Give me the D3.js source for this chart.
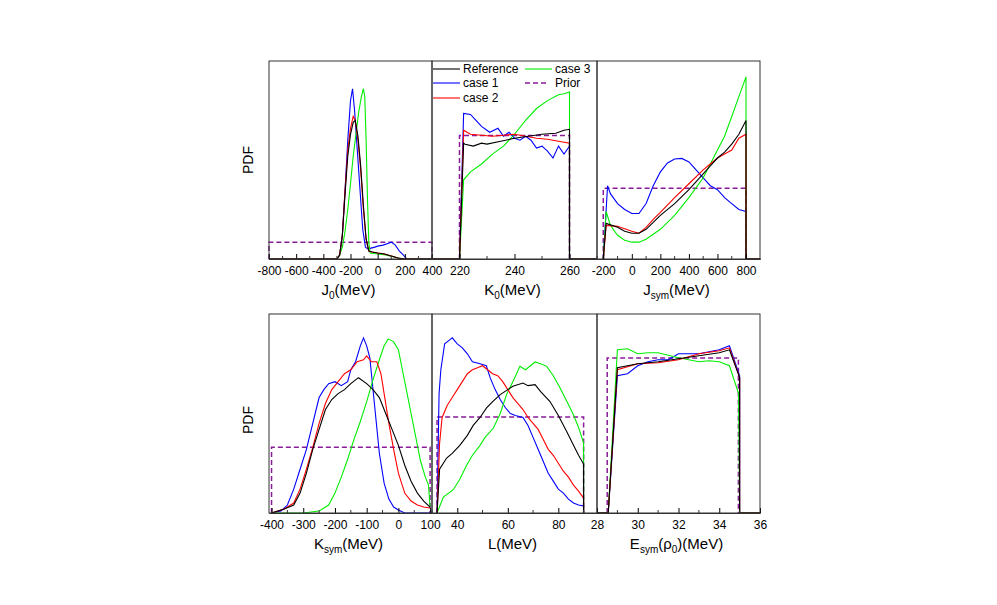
<!DOCTYPE html>
<html><head><meta charset="utf-8">
<script src="https://cdn.jsdelivr.net/npm/d3@7"></script>
<style>body{margin:0;background:#fff}text{font-family:"Liberation Sans",Arial,sans-serif}</style>
</head><body><svg id="c" width="997" height="605"></svg>
<script>
const colors={ref:"#000000",c1:"#0000ff",c2:"#ff0000",c3:"#00ee00",prior:"#8b1a9a"};
const seriesNames=["Reference","case 1","case 2","case 3","Prior"];
// J0
const J0_ref=[[-800,0],[-300,0],[-280,2],[-260,12],[-240,33],[-220,52],[-200,63],[-180,69],[-165,70],[-145,62],[-125,47],[-105,27],[-85,10],[-65,4],[-40,3.5],[0,3],[50,2.5],[100,1.5],[150,0.5],[200,0],[400,0]];
const J0_c1=[[-800,0],[-300,0],[-280,2],[-260,12],[-240,35],[-220,60],[-200,80],[-185,86],[-170,75],[-150,55],[-130,35],[-110,15],[-90,6],[-70,5],[-50,5.5],[-20,6],[0,6.5],[40,7],[80,8],[100,8.5],[130,7],[160,4],[190,2],[215,0],[400,0]];
const J0_c2=[[-800,0],[-300,0],[-280,2],[-260,12],[-240,35],[-220,55],[-200,66],[-180,72],[-165,70],[-145,60],[-125,45],[-105,25],[-85,10],[-65,4],[-40,3.5],[0,3],[50,2.5],[100,1.5],[150,0.5],[200,0],[400,0]];
const J0_c3=[[-800,0],[-300,0],[-280,2],[-260,6],[-240,14],[-220,25],[-200,38],[-180,52],[-160,63],[-140,74],[-120,82],[-105,86],[-95,82],[-85,60],[-75,30],[-65,8],[-55,3],[0,2.5],[60,2],[120,1],[180,0],[400,0]];
const J0_prior=[[-800,0],[-800,8.4],[400,8.4],[400,0]];
// K0
const K0_ref=[[210,0],[220,0],[221.5,58.5],[222,58],[225,57],[228,58.5],[230,58],[235,59.5],[240,61],[245,62],[250,63],[255,63.5],[258,65],[260,65.5],[260,0],[270,0]];
const K0_c1=[[210,0],[220,0],[221.5,73.5],[224,73],[226,70],[228,67],[231,64],[234,66],[236,62],[238,64],[240,61],[242,60],[244,62],[246,60],[248,56],[250,57],[252,54.5],[254,51],[256,57],[258,53],[260,57],[260,0],[270,0]];
const K0_c2=[[210,0],[220,0],[221.5,65],[224,63],[228,62.5],[232,62],[236,62.5],[240,63],[244,62],[248,61],[252,60.5],[256,59.5],[260,58.5],[260,0],[270,0]];
const K0_c3=[[210,0],[220,0],[221.5,40],[224,44],[228,48],[232,53],[236,57],[240,63],[244,70],[248,76],[252,80],[256,83],[258,83.5],[260,84.4],[260,0],[270,0]];
const K0_prior=[[220,0],[220,62.4],[260,62.4],[260,0]];
// Jsym
const Js_ref=[[-200,0],[-180,18],[-100,16],[-50,14],[0,13],[50,13],[100,15],[150,18.5],[200,22],[300,28],[400,35],[500,43],[550,47],[600,51],[650,54],[700,58],[750,63],[800,70],[800,0],[900,0]];
const Js_c1=[[-200,0],[-170,37],[-150,33],[-100,28],[-50,25],[0,23],[50,23],[100,28],[150,37],[200,44],[250,48.5],[300,50.5],[350,50.8],[400,49],[450,45],[500,41],[550,37],[600,35],[650,31],[700,28],[750,25],[800,24],[800,0],[900,0]];
const Js_c2=[[-200,0],[-180,17],[-100,16.5],[0,14],[50,13],[100,16],[150,20],[200,23.5],[300,31],[400,38],[500,45],[550,48],[600,51],[650,53],[700,55],[750,61],[800,63],[800,0],[900,0]];
const Js_c3=[[-200,0],[-180,24],[-150,17],[-100,12],[-50,9.5],[0,8.5],[50,8.5],[100,10],[200,15],[300,22],[400,31],[500,41],[550,48],[600,55],[650,62],[700,72],[750,82],[800,92],[800,0],[900,0]];
const Js_prior=[[-200,0],[-200,35.7],[800,35.7],[800,0]];
// Ksym
const Ks_ref=[[-400,0],[-360,2],[-330,4],[-310,10],[-290,20],[-270,32],[-250,42],[-230,52],[-210,57],[-190,60],[-170,62],[-150,65],[-126,68],[-100,65],[-80,62],[-60,58],[-40,50],[-20,42],[0,34],[20,24],[40,16],[60,10],[80,6],[100,3]];
const Ks_c1=[[-400,0],[-370,1],[-350,4],[-330,12],[-310,22],[-290,32],[-270,45],[-250,58],[-235,62],[-220,65],[-200,66],[-180,64],[-160,66],[-150,72],[-135,76],[-120,84],[-110,88],[-100,84],[-90,78],[-75,54],[-60,30],[-45,15],[-30,7],[-15,3],[0,1.5],[20,0],[100,0]];
const Ks_c2=[[-400,0],[-360,2],[-330,5],[-310,12],[-290,22],[-270,33],[-250,45],[-230,55],[-210,62],[-190,66],[-170,70],[-150,72],[-130,76],[-110,77],[-100,79],[-85,76],[-68,76],[-55,70],[-45,60],[-30,45],[-15,32],[0,20],[20,10],[40,6],[60,4],[80,3],[100,2.5]];
const Ks_c3=[[-400,0],[-300,0],[-250,1],[-220,4],[-200,10],[-180,18],[-160,27],[-140,37],[-120,46],[-100,56],[-80,67],[-60,77],[-45,84],[-32,87.5],[-15,86],[0,82],[10,74],[25,62],[40,50],[55,38],[70,26],[85,18],[95,14],[100,3]];
const Ks_prior=[[-400,0],[-400,33],[100,33],[100,0]];
// L
const L_ref=[[32,0],[33,22],[35.8,27.6],[38,30],[41,34],[44,39],[46.3,44],[49,48],[51.6,52.8],[54,56],[57,59.5],[60,62],[62,63.7],[66,65.3],[68,64],[70.8,64.5],[73,61],[76.7,56],[80,49],[83.3,41],[86,34],[88,29],[90,24.6],[90,0]];
const L_c1=[[32,0],[32.8,60],[33.5,72],[35,85],[37,87],[38,88],[40,85],[42,83],[44,80],[46,76],[49,75],[51.5,74],[53,68],[55,62],[57,57],[59,53],[61,50],[63,49],[66,48],[68,44],[70,38],[72,32],[74,26],[76,20],[78,16],[80,12],[82,10],[84,7],[86,5],[88,4],[90,3.5],[90,0]];
const L_c2=[[32,0],[33,35],[34,48],[36,54],[38,58],[40,62],[42,66],[44,70],[46,72],[48,73],[50,74],[52,72],[54,70],[56,69],[58,66],[60,62],[62,58],[64,55],[66,52],[68,48],[70,45],[72,42],[74,37],[76,32],[78,29],[80,25],[82,21],[84,18],[86,14],[88,11],[90,7.5],[90,0]];
const L_c3=[[32,0],[34.5,8],[38.4,11.7],[41,17],[43.7,24],[46,29],[49,34],[51,38],[54.3,42.7],[57,50],[59.5,59.5],[62,66],[64.8,73.7],[67,72],[70.8,75.9],[73,75],[75.4,73.7],[78,69],[80.7,62.8],[83,57],[86,49.4],[88,43],[90,35.2],[90,0]];
const L_prior=[[32,0],[32,48.2],[90,48.2],[90,0]];
// Esym
const E_ref=[[28,0],[28.55,0],[29,73],[30,75],[31,76],[32,77.5],[33,79],[34,80.5],[34.5,82],[35,68],[35,0],[36,0]];
const E_c1=[[28,0],[28.55,0],[29,69],[29.5,70],[30,74],[30.5,76],[31,77],[31.5,77],[32,80],[33,80],[34,82],[34.5,84],[35,69],[35,0],[36,0]];
const E_c2=[[28,0],[28.55,0],[29,72],[30,75],[31,75.5],[32,77],[33,80],[34,81.5],[34.5,83],[35,68],[35,0],[36,0]];
const E_c3=[[28,0],[28.55,0],[29,82],[29.5,82.5],[30,80],[30.5,80.5],[31,80.5],[32,78],[33,76],[33.5,76.5],[34,76],[34.5,74],[34.95,60],[35,0],[36,0]];
const E_prior=[[28.5,0],[28.5,77.9],[34.94,77.9],[34.94,0]];

const ticksJ0=[-800,-600,-400,-200,0,200,400], ticksK0=[220,240,260], ticksJs=[-200,0,200,400,600,800];
const ticksKs=[-400,-300,-200,-100,0,100], ticksL=[40,60,80], ticksE=[28,30,32,34,36];

const svg=d3.select("#c");
const cols=[269,432,597,760];
const rows=[[61,259],[314,513]];
const panels=[
 {c:0,r:0,dom:[-800,400],ticks:ticksJ0,minor:100,s:[J0_c1,J0_c3,J0_c2,J0_ref],p:J0_prior,t:["J","0","(MeV)"]},
 {c:1,r:0,dom:[210,270],ticks:ticksK0,minor:10,s:[K0_c1,K0_c3,K0_c2,K0_ref],p:K0_prior,t:["K","0","(MeV)"]},
 {c:2,r:0,dom:[-244,898],ticks:ticksJs,minor:100,s:[Js_c1,Js_c3,Js_c2,Js_ref],p:Js_prior,t:["J","sym","(MeV)"]},
 {c:0,r:1,dom:[-408,106],ticks:ticksKs,minor:50,s:[Ks_c1,Ks_c3,Ks_c2,Ks_ref],p:Ks_prior,t:["K","sym","(MeV)"]},
 {c:1,r:1,dom:[30,95.3],ticks:ticksL,minor:10,s:[L_c1,L_c3,L_c2,L_ref],p:L_prior,t:["L","","(MeV)"]},
 {c:2,r:1,dom:[28,36],ticks:ticksE,minor:1,s:[E_c1,E_c3,E_c2,E_ref],p:E_prior,t:["E","sym","(\u03c1","0",")(MeV)"]}
];
const scol=[colors.c1,colors.c3,colors.c2,colors.ref];
panels.forEach(P=>{
 const x0=cols[P.c],x1=cols[P.c+1],[yt,yb]=rows[P.r];
 const x=d3.scaleLinear().domain(P.dom).range([x0,x1]);
 const y=d3.scaleLinear().domain([0,100]).range([yb,yt]);
 const g=svg.append("g");
 const line=d3.line().x(d=>x(d[0])).y(d=>y(d[1]));
 g.append("path").attr("d",line(P.p)).attr("fill","none").attr("stroke",colors.prior).attr("stroke-width",1.5).attr("stroke-dasharray","5,3");
 P.s.forEach((s,i)=>g.append("path").attr("d",line(s)).attr("fill","none").attr("stroke",scol[i]).attr("stroke-width",1.1));
 const ax=g.append("g").attr("transform",`translate(0,${yb})`).call(d3.axisBottom(x).tickValues(P.ticks.filter(v=>v>=P.dom[0]&&v<=P.dom[1])).tickSizeInner(-5).tickSizeOuter(0).tickPadding(7).tickFormat(d=>d));
 ax.select(".domain").attr("stroke","#333");
 ax.selectAll("text").attr("font-size",12).attr("fill","#000").attr("font-family","Liberation Sans, Arial");
 const mn=d3.range(Math.ceil(P.dom[0]/P.minor)*P.minor,P.dom[1]+1e-9,P.minor).filter(v=>!P.ticks.includes(v));
 g.selectAll(".mn").data(mn).join("line").attr("x1",d=>x(d)).attr("x2",d=>x(d)).attr("y1",yb).attr("y2",yb-3).attr("stroke","#333");
 g.append("rect").attr("x",x0).attr("y",yt).attr("width",x1-x0).attr("height",yb-yt).attr("fill","none").attr("stroke","#333").attr("stroke-width",1);
 const tt=g.append("text").attr("x",(x0+x1)/2-2).attr("y",yb+36).attr("text-anchor","middle").attr("font-size",15);
 tt.append("tspan").text(P.t[0]);
 if(P.t[1]) tt.append("tspan").attr("font-size",10).attr("dy",4).text(P.t[1]);
 tt.append("tspan").attr("dy",P.t[1]?-4:0).text(P.t[2]);
 if(P.t.length>3){tt.append("tspan").attr("font-size",10).attr("dy",4).text(P.t[3]);tt.append("tspan").attr("dy",-4).text(P.t[4]);}
});
[[160],[420]].forEach(([yy])=>svg.append("text").attr("x",253).attr("y",yy).attr("transform",`rotate(-90,253,${yy})`).attr("text-anchor","middle").attr("font-size",14).text("PDF"));
// legend
const leg=[[seriesNames[0],colors.ref,433,69,false],[seriesNames[1],colors.c1,433,83,false],[seriesNames[2],colors.c2,433,98,false],[seriesNames[3],colors.c3,525,69,false],[seriesNames[4],colors.prior,525,83,true]];
leg.forEach(([n,c,lx,ly,d])=>{
 svg.append("line").attr("x1",lx).attr("x2",lx+(d?22:27)).attr("y1",ly).attr("y2",ly).attr("stroke",c).attr("stroke-width",d?1.5:1.1).attr("stroke-dasharray",d?"5,3":null);
 svg.append("text").attr("x",d?555:(lx===433?463:555)).attr("y",ly+4).attr("font-size",12).text(n);
});
</script></body></html>
